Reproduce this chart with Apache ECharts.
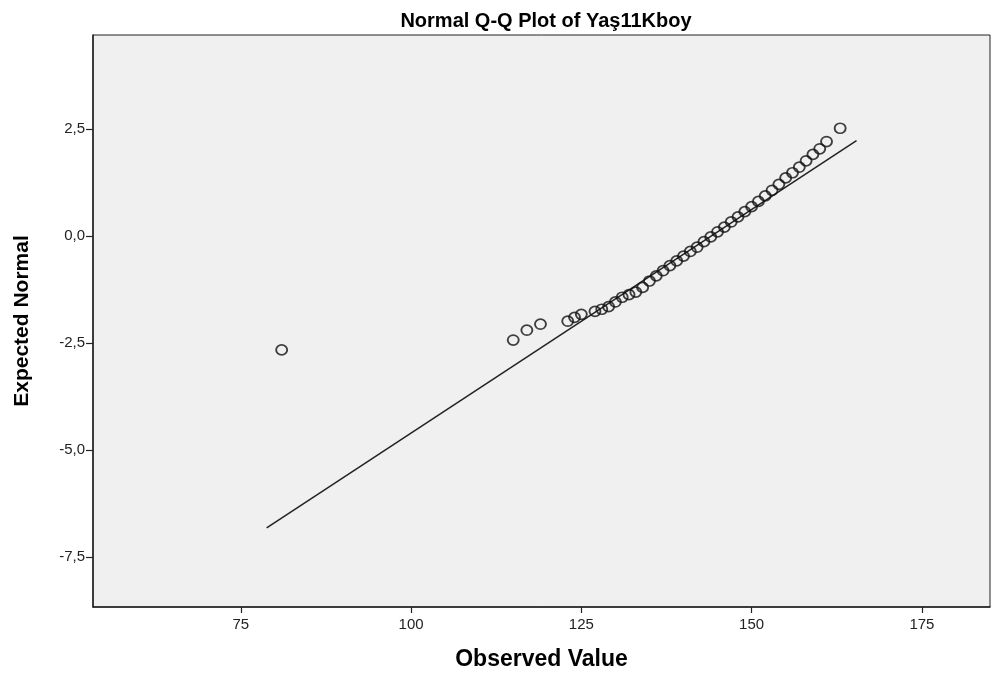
<!DOCTYPE html>
<html>
<head>
<meta charset="utf-8">
<script src="https://cdn.jsdelivr.net/npm/echarts@6/dist/echarts.min.js"></script>
<style>
  html, body { margin: 0; padding: 0; background: #ffffff; }
  #chart { width: 994px; height: 676px; }
</style>
</head>
<body>
<div id="chart"></div>
<script>
// Observed heights and their expected normal scores
const observedValues = [81, 115, 117, 119, 123, 124, 125, 127, 128, 129, 130, 131, 132, 133, 134, 135, 136, 137, 138, 139, 140, 141, 142, 143, 144, 145, 146, 147, 148, 149, 150, 151, 152, 153, 154, 155, 156, 157, 158, 159, 160, 161, 163];
const expectedNormal = [-2.66, -2.43, -2.20, -2.06, -1.99, -1.90, -1.83, -1.76, -1.71, -1.65, -1.54, -1.43, -1.37, -1.31, -1.20, -1.05, -0.93, -0.81, -0.69, -0.58, -0.47, -0.36, -0.26, -0.13, -0.02, 0.10, 0.21, 0.33, 0.45, 0.57, 0.69, 0.81, 0.94, 1.07, 1.21, 1.36, 1.48, 1.61, 1.76, 1.91, 2.04, 2.21, 2.52];

// Reference line (endpoints)
const refLineX = [78.8, 165.4];
const refLineY = [-6.82, 2.23];

// Axis tick positions
const xTicks = [75, 100, 125, 150, 175];
const yTicks = [-7.5, -5, -2.5, 0, 2.5];

const chart = echarts.init(document.getElementById('chart'), null, { renderer: 'canvas' });

const FONT = 'Liberation Sans, Arial, sans-serif';
const fmtComma = v => v.toFixed(1).replace('.', ',');

chart.setOption({
  backgroundColor: '#ffffff',
  animation: false,
  title: {
    text: 'Normal Q-Q Plot of Yaş11Kboy',
    left: 541, top: 6, textAlign: 'center',
    textStyle: { fontFamily: FONT, fontSize: 20, fontWeight: 'bold', color: '#000' }
  },
  grid: {
    left: 93, top: 35, right: 4, bottom: 69,
    outerBoundsMode: 'none',
    show: true, backgroundColor: '#f0f0f0', borderColor: '#222', borderWidth: 1
  },
  xAxis: {
    type: 'value', min: 53.3, max: 185,
    name: 'Observed Value', nameLocation: 'middle', nameGap: 41,
    nameTextStyle: { fontFamily: FONT, fontSize: 23, fontWeight: 'bold', color: '#000' },
    axisLine: { show: true, onZero: false, lineStyle: { color: '#222', width: 1.5 } },
    axisTick: { show: true, length: 6, customValues: xTicks, lineStyle: { color: '#222', width: 1.2 } },
    axisLabel: { customValues: xTicks, margin: 10, fontFamily: FONT, fontSize: 15, color: '#222', formatter: v => String(v) },
    splitLine: { show: false }
  },
  yAxis: {
    type: 'value', min: -8.67, max: 4.70,
    name: 'Expected Normal', nameLocation: 'middle', nameGap: 60, nameRotate: 90,
    nameTextStyle: { fontFamily: FONT, fontSize: 21, fontWeight: 'bold', color: '#000' },
    axisLine: { show: true, onZero: false, lineStyle: { color: '#222', width: 1.5 } },
    axisTick: { show: true, length: 7, customValues: yTicks, lineStyle: { color: '#222', width: 1.2 } },
    axisLabel: { customValues: yTicks, margin: 8, fontFamily: FONT, fontSize: 15, color: '#222', formatter: v => fmtComma(v) },
    splitLine: { show: false }
  },
  series: [
    {
      type: 'line',
      data: refLineX.map((x, i) => [x, refLineY[i]]),
      symbol: 'none',
      lineStyle: { color: '#222', width: 1.5 },
      silent: true,
      z: 2
    },
    {
      type: 'scatter',
      data: observedValues.map((x, i) => [x, expectedNormal[i]]),
      symbol: 'circle',
      symbolSize: [11, 10],
      itemStyle: { color: 'rgba(0,0,0,0)', borderColor: '#111', borderWidth: 1.8 },
      z: 3
    }
  ]
});
</script>
</body>
</html>
